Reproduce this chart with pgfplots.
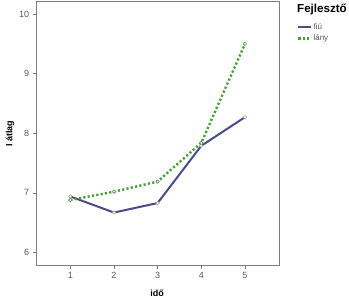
\documentclass[border=0pt]{standalone}
\usepackage{fontspec}
\setmainfont{Liberation Sans}
\usepackage{pgfplots}
\pgfplotsset{compat=1.18}
\definecolor{fiu}{RGB}{75,75,135}
\definecolor{lany}{RGB}{70,160,55}
\definecolor{axgray}{RGB}{125,125,125}
\definecolor{tickgray}{RGB}{85,85,85}
\begin{document}
\begin{tikzpicture}[x=1pt,y=1pt]
\useasboundingbox (-36.7,-35) rectangle (312.3,265);
\begin{axis}[
  at={(0,0)}, anchor=south west,
  scale only axis, width=242.3pt, height=264pt,
  xmin=0.23, xmax=5.78, ymin=5.79, ymax=10.22,
  xtick={1,2,3,4,5}, ytick={6,7,8,9,10},
  tick align=outside, tick pos=left,
  major tick length=4pt,
  axis line style={axgray, line width=0.8pt},
  tick style={axgray, line width=0.6pt},
  ticklabel style={font=\fontsize{9}{10}\selectfont, text=tickgray},
  /pgf/number format/assume math mode=true,
  xlabel={\textbf{idő}}, ylabel={\textbf{I átlag}},
  label style={font=\fontsize{9}{10}\selectfont},
  xlabel style={at={(axis description cs:0.4965,-0.106)}, anchor=center},
  ylabel style={at={(axis description cs:-0.110,0.498)}, anchor=center},
  legend style={at={(axis description cs:1.074,0.92)}, anchor=north west,
    draw=none, fill=none, font=\fontsize{8}{9}\selectfont, text=tickgray,
    row sep=2pt, inner sep=0pt, nodes={inner sep=1pt}},
  legend cell align=left,
  legend image code/.code={\draw[#1] (0pt,0pt) -- (13pt,0pt);},
]
\addlegendimage{fiu, line width=2pt}
\addlegendimage{lany, line width=2.4pt, dash pattern=on 2.2pt off 2.2pt}
\addplot[fiu, line width=2pt, mark=*, mark size=1.7pt,
  mark options={solid, fill=white, draw=gray!70, line width=0.6pt}, forget plot]
  coordinates {(1,6.94) (2,6.67) (3,6.83) (4,7.79) (5,8.27)};
\addplot[lany, line width=2.4pt, dash pattern=on 2.2pt off 2.2pt, mark=*, mark size=1.7pt,
  mark options={solid, fill=white, draw=lany!70!gray, line width=0.6pt}, forget plot]
  coordinates {(1,6.88) (2,7.02) (3,7.19) (4,7.84) (5,9.50)};
\legend{fiú, lány}
\end{axis}
\node[anchor=west, font=\bfseries\fontsize{11.6}{13}\selectfont, inner sep=0pt] at (260.3,255) {Fejlesztő};
\end{tikzpicture}
\end{document}
